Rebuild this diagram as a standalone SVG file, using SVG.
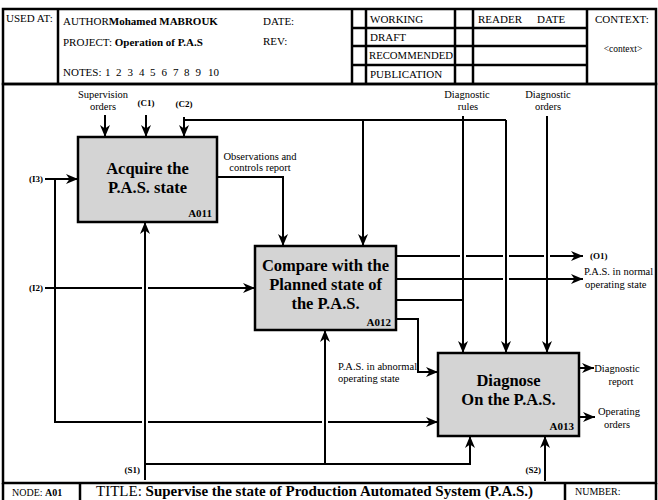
<svg xmlns="http://www.w3.org/2000/svg" width="658" height="500" viewBox="0 0 658 500" font-family="'Liberation Serif', 'DejaVu Serif', serif">
<style>
text{font-family:'Liberation Serif','Times New Roman','DejaVu Serif',serif;fill:#000}
.hd{font-size:11px}
.b{font-weight:bold}
.lbl{font-size:10.5px}
.io{font-size:9px;font-weight:bold}
.box{fill:#d4d4d4;stroke:#000;stroke-width:2.5}
.bt{font-size:16.5px;font-weight:bold;text-anchor:middle}
.an{font-size:11px;font-weight:bold;text-anchor:end}
.frame{fill:none;stroke:#000;stroke-width:2.5}
.c{fill:none;stroke:#000;stroke-width:2}
.m{text-anchor:middle}
</style>
<defs>
<marker id="arr" markerUnits="userSpaceOnUse" markerWidth="12" markerHeight="10" refX="12" refY="5" orient="auto">
<path d="M0,0 L12,5 L0,10 L3.5,5 Z" fill="#000"/>
</marker>
</defs>
<rect width="658" height="500" fill="#fff"/>
<g id="header">
<rect class="frame" x="3" y="9" width="653" height="75"/>
<line class="frame" x1="58" y1="9" x2="58" y2="84"/>
<line class="frame" x1="352" y1="9" x2="352" y2="84"/>
<line class="frame" x1="366" y1="9" x2="366" y2="84"/>
<line class="frame" x1="455" y1="9" x2="455" y2="84"/>
<line class="frame" x1="473" y1="9" x2="473" y2="84"/>
<line class="frame" x1="587" y1="9" x2="587" y2="84"/>
<line class="frame" x1="352" y1="28" x2="587" y2="28"/>
<line class="frame" x1="352" y1="46" x2="587" y2="46"/>
<line class="frame" x1="352" y1="65" x2="587" y2="65"/>
<text class="hd" x="6" y="22">USED AT:</text>
<text class="hd" x="63" y="25">AUTHOR<tspan class="b">Mohamed MABROUK</tspan></text>
<text class="hd" x="63" y="46">PROJECT: <tspan class="b">Operation of P.A.S</tspan></text>
<text class="hd" y="76"><tspan x="63">NOTES:</tspan><tspan x="105">1</tspan><tspan x="116">2</tspan><tspan x="127.5">3</tspan><tspan x="139">4</tspan><tspan x="150">5</tspan><tspan x="161.5">6</tspan><tspan x="173">7</tspan><tspan x="184">8</tspan><tspan x="195.5">9</tspan><tspan x="208">10</tspan></text>
<text class="hd" x="263" y="25">DATE:</text>
<text class="hd" x="263" y="45">REV:</text>
<text class="hd" x="370" y="23">WORKING</text>
<text class="hd" x="370" y="41">DRAFT</text>
<text class="hd" x="369" y="59" textLength="84" lengthAdjust="spacingAndGlyphs">RECOMMENDED</text>
<text class="hd" x="370" y="78">PUBLICATION</text>
<text class="hd" x="478" y="23">READER</text>
<text class="hd" x="537" y="23">DATE</text>
<text class="hd" x="595" y="23">CONTEXT:</text>
<text x="623" y="52" font-size="9.5" class="m">&lt;context&gt;</text>
</g>
<g id="frame">
<rect class="frame" x="3" y="84" width="653" height="399"/>
<line class="frame" x1="3" y1="483" x2="3" y2="500"/>
<line class="frame" x1="80" y1="483" x2="80" y2="500"/>
<line class="frame" x1="565" y1="483" x2="565" y2="500"/>
<line class="frame" x1="656" y1="483" x2="656" y2="500"/>
<text x="12" y="496" font-size="10">NODE: <tspan class="b">A01</tspan></text>
<text x="96" y="496" font-size="15">TITLE:  <tspan class="b">Supervise the state of Production Automated System (P.A.S.)</tspan></text>
<text x="575" y="495" font-size="10">NUMBER:</text>
</g>
<g id="A011">
<rect class="box" x="78" y="137" width="139" height="85"/>
<text class="bt" x="147.5" y="174">Acquire the</text>
<text class="bt" x="147.5" y="193">P.A.S. state</text>
<text class="an" x="212" y="217">A011</text>
</g>
<g id="A012">
<rect class="box" x="255" y="246" width="141" height="84"/>
<text class="bt" x="325.5" y="271">Compare with the</text>
<text class="bt" x="325.5" y="290">Planned state of</text>
<text class="bt" x="325.5" y="309">the P.A.S.</text>
<text class="an" x="391" y="326">A012</text>
</g>
<g id="A013">
<rect class="box" x="438" y="353" width="141" height="83"/>
<text class="bt" x="508.5" y="386">Diagnose</text>
<text class="bt" x="508.5" y="405">On the P.A.S.</text>
<text class="an" x="574" y="430">A013</text>
</g>
<g id="connectors">
<path class="c" d="M105,115 V137" marker-end="url(#arr)"/>
<path class="c" d="M146,115 V137" marker-end="url(#arr)"/>
<path class="c" d="M184,117 V137" marker-end="url(#arr)"/>
<path class="c" d="M184,120 H506"/>
<path class="c" d="M363,120 V246" marker-end="url(#arr)"/>
<path class="c" d="M506,120 V353" marker-end="url(#arr)"/>
<path class="c" d="M463,116 V353" marker-end="url(#arr)"/>
<path class="c" d="M547,116 V353" marker-end="url(#arr)"/>
<path class="c" d="M45,179 H78" marker-end="url(#arr)"/>
<path class="c" d="M55,179 V422 H142"/>
<path class="c" d="M148,422 H322"/>
<path class="c" d="M328,422 H438" marker-end="url(#arr)"/>
<path class="c" d="M45,288 H142"/>
<path class="c" d="M148,288 H255" marker-end="url(#arr)"/>
<path class="c" d="M217,177 H283 V246" marker-end="url(#arr)"/>
<path class="c" d="M396,256 H460"/>
<path class="c" d="M466,256 H503"/>
<path class="c" d="M509,256 H544"/>
<path class="c" d="M550,256 H583" marker-end="url(#arr)"/>
<path class="c" d="M396,279 H503"/>
<path class="c" d="M509,279 H583" marker-end="url(#arr)"/>
<path class="c" d="M396,300 H463"/>
<path class="c" d="M396,319 H418 V372 H438" marker-end="url(#arr)"/>
<path class="c" d="M579,368 H594" marker-end="url(#arr)"/>
<path class="c" d="M579,417 H595" marker-end="url(#arr)"/>
<path class="c" d="M145,480 V222" marker-end="url(#arr)"/>
<path class="c" d="M145,464 H470 V436" marker-end="url(#arr)"/>
<path class="c" d="M325,464 V330" marker-end="url(#arr)"/>
<path class="c" d="M545,481 V436" marker-end="url(#arr)"/>
</g>
<g id="labels">
<text class="lbl m" x="103" y="98">Supervision</text>
<text class="lbl m" x="103" y="110">orders</text>
<text class="io m" x="146" y="106">(C1)</text>
<text class="io m" x="184" y="107">(C2)</text>
<text class="lbl m" x="467" y="98">Diagnostic</text>
<text class="lbl m" x="468" y="110">rules</text>
<text class="lbl m" x="548" y="98">Diagnostic</text>
<text class="lbl m" x="548" y="110">orders</text>
<text class="lbl m" x="260" y="160">Observations and</text>
<text class="lbl m" x="260" y="171">controls report</text>
<text class="io" x="43" y="182" text-anchor="end">(I3)</text>
<text class="io" x="43" y="291" text-anchor="end">(I2)</text>
<text class="io" x="590" y="259">(O1)</text>
<text class="lbl" x="584" y="275">P.A.S. in normal</text>
<text class="lbl" x="585" y="288">operating state</text>
<text class="lbl" x="338" y="370">P.A.S. in abnormal</text>
<text class="lbl" x="338" y="382">operating state</text>
<text class="lbl m" x="617" y="372">Diagnostic</text>
<text class="lbl m" x="621" y="385">report</text>
<text class="lbl m" x="619" y="415">Operating</text>
<text class="lbl m" x="617" y="428">orders</text>
<text class="io" x="140" y="473" text-anchor="end">(S1)</text>
<text class="io" x="541" y="473" text-anchor="end">(S2)</text>
</g>
</svg>
